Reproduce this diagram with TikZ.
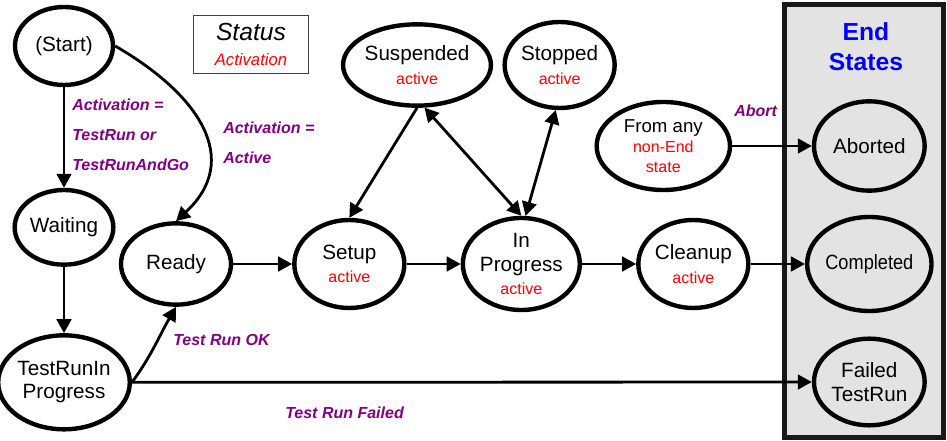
\documentclass[tikz,border=0pt]{standalone}
\usepackage{fontspec}
\setmainfont{Liberation Sans}
\usepackage{graphicx}
\usetikzlibrary{shapes.geometric, arrows.meta, positioning}
\definecolor{condpurple}{RGB}{128,0,128}
\definecolor{endgray}{RGB}{227,227,227}
\newcommand{\statefont}{\fontsize{15.5}{17.5}\selectfont}
\newcommand{\act}[1]{{\color{red}\fontsize{12}{14}\selectfont #1}}
\tikzstyle{state} = [ellipse, draw=black, line width=3.3pt, inner sep=0pt, align=center, font=\statefont]
\tikzstyle{cond} = [text=condpurple, font=\fontsize{12}{22.5}\selectfont\bfseries\itshape, align=left, anchor=west, inner sep=0pt]
\tikzstyle{arrow} = [line width=2.1pt, -{Triangle[length=10.5pt, width=11pt]}]
\tikzstyle{arrow_both} = [line width=2.1pt, {Triangle[length=10.5pt, width=11pt]}-{Triangle[length=10.5pt, width=11pt]}]

\begin{document}
\begin{tikzpicture}[x=0.75pt, y=0.75pt, node distance=2cm]
		\useasboundingbox (0,0) rectangle (947,-441);
		% end states box
		\node (endbox) [draw=black!90, line width=3.75pt, fill=endgray, minimum width=119.25pt, minimum height=324.75pt, inner sep=0pt] at (864,-221) {};
		\node (endlabel) [text=blue, font=\fontsize{18.5}{22.5}\selectfont\bfseries, align=center] at (866,-47) {End\\States};
		\node (statusbox) [draw=black!75, line width=0.75pt, minimum width=86pt, minimum height=43.5pt, align=center, font=\fontsize{18.5}{18.75}\selectfont\itshape] at (251,-44.5) {Status\\{\color{red}\fontsize{12.5}{15}\selectfont Activation}};

		\node (start) [state, minimum width=73.5pt, minimum height=58.5pt] at (64,-46) {(Start)};
		\node (waiting) [state, below of=start, node distance=136pt, minimum width=74pt, minimum height=56pt] {Waiting};
		\node (trip) [state, below of=waiting, node distance=116.25pt, minimum width=89pt, minimum height=70.5pt] {TestRunIn\\Progress};
		\node (ready) [state, minimum width=82.5pt, minimum height=61pt] at (176,-264) {Ready};
		\node (setup) [state, right of=ready, node distance=130pt, minimum width=82.5pt, minimum height=66pt] {Setup\\\act{active}};
		\node (inprog) [state, right of=setup, node distance=129pt, minimum width=83pt, minimum height=69pt] {In\\Progress\\\act{active}};
		\node (cleanup) [state, right of=inprog, node distance=129pt, minimum width=82.5pt, minimum height=66pt] {Cleanup\\\act{active}};
		\node (completed) [state, right of=cleanup, node distance=132pt, minimum width=88.5pt, minimum height=70.5pt] {\scalebox{0.88}[1]{Completed}};
		\node (aborted) [state, above of=completed, node distance=88.5pt, minimum width=83pt, minimum height=67pt] {Aborted};
		\node (failed) [state, below of=completed, node distance=88.5pt, minimum width=83pt, minimum height=65pt] {Failed\\TestRun};
		\node (fromany) [state, left of=aborted, node distance=154.5pt, minimum width=100pt, minimum height=66pt, font=\fontsize{14}{15}\selectfont] {From any\\\act{non-End}\\\act{state}};
		\node (suspended) [state, minimum width=108pt, minimum height=61pt] at (417,-65) {Suspended\\\act{active}};
		\node (stopped) [state, right of=suspended, node distance=107pt, minimum width=82.5pt, minimum height=64.5pt] {Stopped\\\act{active}};

		\node (cond_wait) [cond] at (72,-135) {Activation =\\TestRun or\\TestRunAndGo};
		\node (cond_ready) [cond] at (223,-143) {Activation =\\Active};
		\node (cond_ok) [cond] at (173,-340) {Test Run OK};
		\node (cond_fail) [cond] at (285,-413) {Test Run Failed};
		\node (cond_abort) [cond] at (734,-111) {Abort};

		\draw [arrow] (start) -- (waiting);
		\draw [arrow] (start.east) .. controls (200,-95) and (242,-160) .. (ready.north);
		\draw [arrow] (waiting) -- (trip);
		\draw [arrow] (trip.east) to[out=54, in=-120] (ready.south);
		\draw [arrow] (trip) -- (failed);
		\draw [arrow] (ready) -- (setup);
		\draw [arrow] (setup) -- (inprog);
		\draw [arrow] (inprog) -- (cleanup);
		\draw [arrow] (cleanup) -- (completed);
		\draw [arrow] (suspended.south) -- (setup.north);
		\draw [arrow_both] (suspended.-80) -- (inprog.north);
		\draw [arrow_both] (stopped.-95) -- (inprog.85);
		\draw [arrow] (fromany) -- (aborted);
		\end{tikzpicture}
\end{document}
